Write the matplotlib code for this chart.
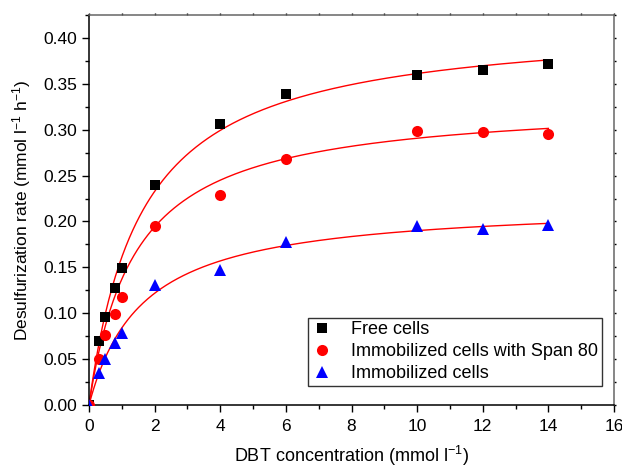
import numpy as np
import matplotlib
matplotlib.use("Agg")
import matplotlib.pyplot as plt
from matplotlib.ticker import MultipleLocator, FormatStrFormatter

plt.rcParams['font.family'] = ['Liberation Sans', 'DejaVu Sans']
plt.rcParams['mathtext.fontset'] = 'custom'
plt.rcParams['mathtext.rm'] = 'Liberation Sans'
plt.rcParams['mathtext.it'] = 'Liberation Sans'

# Data
dbt = [0, 0.3, 0.5, 0.8, 1.0, 2, 4, 6, 10, 12, 14]
free_cells = [0, 0.070, 0.096, 0.127, 0.149, 0.240, 0.306, 0.339, 0.360, 0.365, 0.372]
span80_cells = [0, 0.050, 0.076, 0.099, 0.118, 0.195, 0.229, 0.268, 0.299, 0.297, 0.295]
immob_cells = [0, 0.035, 0.050, 0.068, 0.078, 0.131, 0.147, 0.178, 0.195, 0.192, 0.196]

# Michaelis-Menten fit parameters (Vmax, Km)
fit_vmax = [0.419, 0.332, 0.221]
fit_km = [1.60, 1.42, 1.63]

labels = ["Free cells", "Immobilized cells with Span 80", "Immobilized cells"]
series = [free_cells, span80_cells, immob_cells]
markers = ["s", "o", "^"]
colors = ["black", "red", "blue"]
msizes = [7, 8, 8.5]

fig = plt.figure(figsize=(6.22, 4.68), dpi=100)
ax = fig.add_axes([89/622, 63/468, 525/622, 390/468])

xs = np.linspace(0, max(dbt), 400)
for vm, km in zip(fit_vmax, fit_km):
    ax.plot(xs, vm * xs / (km + xs), color="red", lw=1.0, zorder=2)

for y, lab, m, c, ms in zip(series, labels, markers, colors, msizes):
    ax.plot(dbt, y, linestyle="none", marker=m, color=c, markersize=ms,
            markeredgewidth=0, label=lab, zorder=3)

ax.set_xlim(0, 16)
ax.set_ylim(0, 0.425)
ax.xaxis.set_major_locator(MultipleLocator(2))
ax.xaxis.set_minor_locator(MultipleLocator(1))
ax.yaxis.set_major_locator(MultipleLocator(0.05))
ax.yaxis.set_minor_locator(MultipleLocator(0.025))
ax.yaxis.set_major_formatter(FormatStrFormatter('%.2f'))

ax.tick_params(which='major', direction='out', length=5, width=1, labelsize=12.5,
               top=True, right=True)
ax.tick_params(which='minor', direction='out', length=3, width=1, top=True, right=True)
ax.tick_params(axis='x', which='major', pad=5)
for t in ax.xaxis.get_major_ticks() + ax.xaxis.get_minor_ticks():
    t.tick2line.set_markersize(1.5)
    t.tick2line.set_color('#555555')
for t in ax.yaxis.get_major_ticks() + ax.yaxis.get_minor_ticks():
    t.tick2line.set_markersize(1.5)
    t.tick2line.set_color('#555555')

for s in ['left', 'bottom']:
    ax.spines[s].set_linewidth(1.1)
    ax.spines[s].set_color('black')
for s in ['top', 'right']:
    ax.spines[s].set_linewidth(1.1)
    ax.spines[s].set_color('#666666')

ax.set_xlabel("DBT concentration (mmol l$^{\\mathrm{-1}}$)", fontsize=13, labelpad=7)
ax.set_ylabel("Desulfurization rate (mmol l$^{\\mathrm{-1}}$ h$^{\\mathrm{-1}}$)",
              fontsize=12.5, labelpad=7)

leg = ax.legend(loc='lower right', bbox_to_anchor=(0.977, 0.049), borderaxespad=0,
                fontsize=13, frameon=True, fancybox=False, edgecolor='black',
                handlelength=1.2, handletextpad=1.0, borderpad=0.2, labelspacing=0.28)
leg.get_frame().set_linewidth(1.0)

fig.savefig("out.png", dpi=100)
